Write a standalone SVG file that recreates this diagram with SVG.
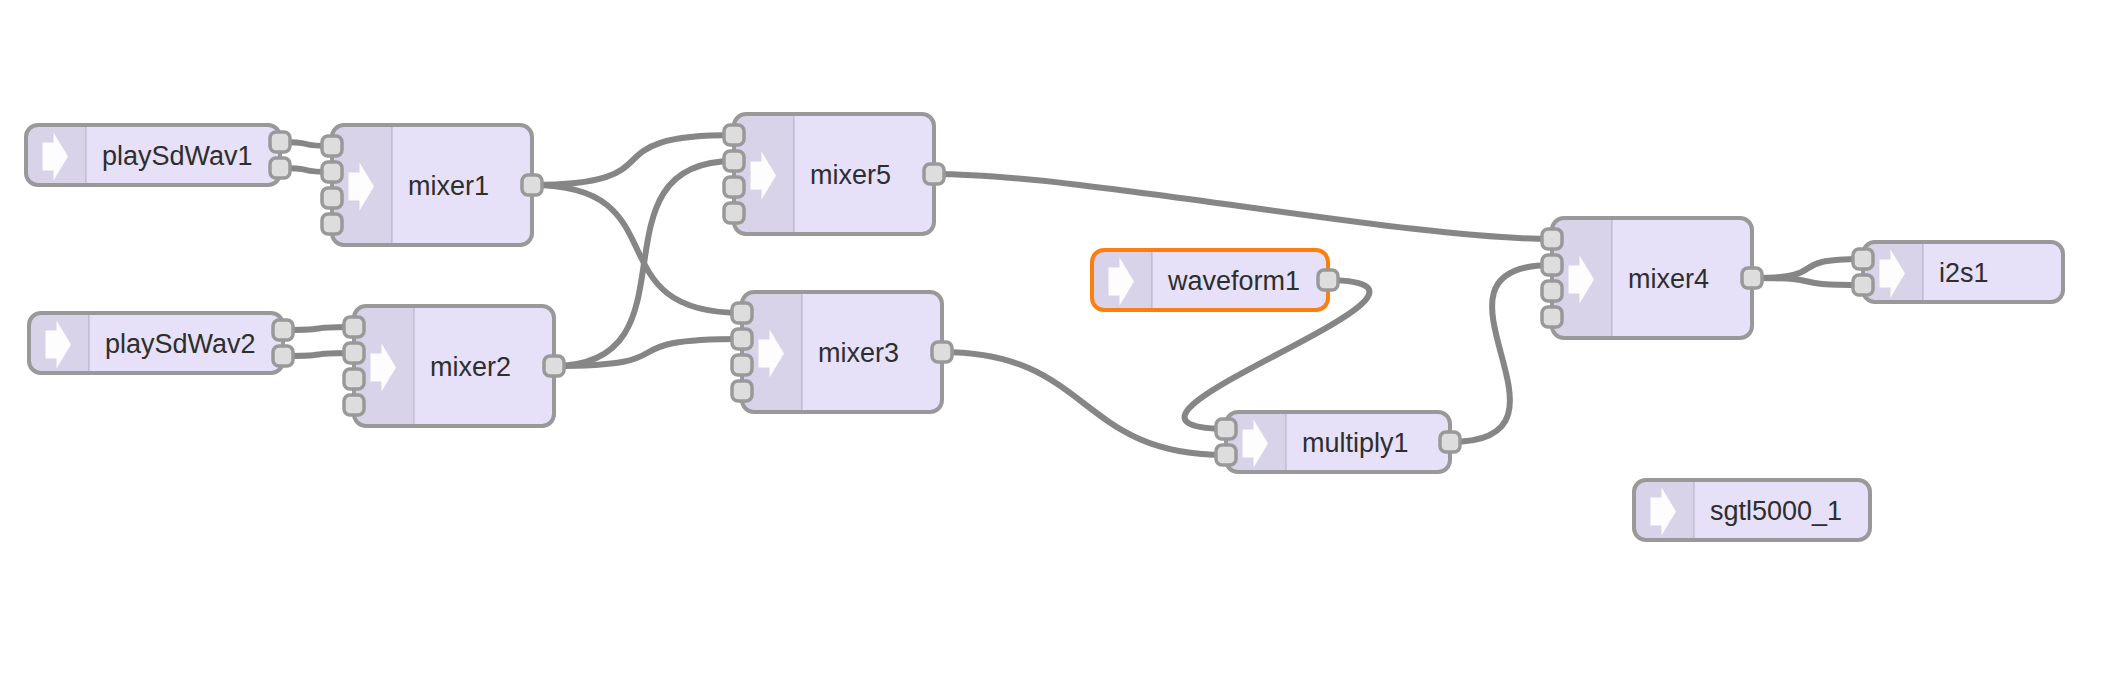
<svg xmlns="http://www.w3.org/2000/svg" xmlns:xlink="http://www.w3.org/1999/xlink" width="2112" height="674" viewBox="0 0 2112 674">
<style>
.bg{fill:#ffffff}
.link{fill:none;stroke:#868686;stroke-width:6;stroke-linecap:round}
.nfill{fill:#e6e0f8}
.shade{fill:#000000;fill-opacity:0.055}
.div{stroke:#000000;stroke-opacity:0.1;stroke-width:2}
.nborder{fill:none;stroke:#999999;stroke-width:4}
.sel{fill:none;stroke:#ff7f0e;stroke-width:4}
.port{fill:#dddddd;stroke:#999999;stroke-width:3.5}
.label{font-family:"Liberation Sans",Arial,Helvetica,sans-serif;font-size:27px;fill:#2e2e2e}
.arrow{fill:#ffffff;fill-opacity:0.95}
</style>
<defs>
<filter id="soft" x="-20%" y="-20%" width="140%" height="140%"><feGaussianBlur stdDeviation="0.7"/></filter>
<polygon id="arrow" class="arrow" filter="url(#soft)" points="-13,-14 -2,-14 -2,-24 12.5,0 -2,24 -2,14 -13,14"/>
<rect id="port" class="port" x="-10" y="-10" width="20" height="20" rx="6"/>
</defs>
<rect class="bg" x="0" y="0" width="2112" height="674"/>
<g id="connectors">
<path class="link" d="M280,142 C319.2,142 292.8,146 332,146"/>
<path class="link" d="M280,168 C319.2,168 292.8,172 332,172"/>
<path class="link" d="M283,330 C336.3,330 300.7,327 354,327"/>
<path class="link" d="M283,356 C336.3,356 300.7,353 354,353"/>
<path class="link" d="M532,185 C682,185 584,135 734,135"/>
<path class="link" d="M532,185 C682,185 592,313 742,313"/>
<path class="link" d="M554,366 C704,366 584,161 734,161"/>
<path class="link" d="M554,366 C696.5,366 599.5,339 742,339"/>
<path class="link" d="M934,174 C1084,174 1402,239 1552,239"/>
<path class="link" d="M942,352 C1092,352 1076,455 1226,455"/>
<path class="link" d="M1328,280 C1504.3,282.6 1049.7,426.4 1226,429"/>
<path class="link" d="M1450,442 C1600,442 1402,265 1552,265"/>
<path class="link" d="M1752,278 C1836.5,278 1778.5,259 1863,259"/>
<path class="link" d="M1752,278 C1835.4,278 1779.6,285 1863,285"/>
</g>
<g id="playSdWav1" transform="translate(26,125)">
<rect class="nfill" width="254" height="60" rx="12"/>
<path class="shade" d="M12,0 H60 V60 H12 A12,12 0 0 1 0,48 V12 A12,12 0 0 1 12,0 Z"/>
<line class="div" x1="60" y1="2" x2="60" y2="58"/>
<use xlink:href="#arrow" x="29.5" y="31.5"/>
<rect class="nborder" width="254" height="60" rx="12"/>
<text class="label" x="76" y="39.5">playSdWav1</text>
<use xlink:href="#port" x="254" y="17"/>
<use xlink:href="#port" x="254" y="43"/>
</g>
<g id="mixer1" transform="translate(332,125)">
<rect class="nfill" width="200" height="120" rx="12"/>
<path class="shade" d="M12,0 H60 V120 H12 A12,12 0 0 1 0,108 V12 A12,12 0 0 1 12,0 Z"/>
<line class="div" x1="60" y1="2" x2="60" y2="118"/>
<use xlink:href="#arrow" x="29.5" y="61.5"/>
<rect class="nborder" width="200" height="120" rx="12"/>
<text class="label" x="76" y="69.5">mixer1</text>
<use xlink:href="#port" x="0" y="21"/>
<use xlink:href="#port" x="0" y="47"/>
<use xlink:href="#port" x="0" y="73"/>
<use xlink:href="#port" x="0" y="99"/>
<use xlink:href="#port" x="200" y="60"/>
</g>
<g id="playSdWav2" transform="translate(29,313)">
<rect class="nfill" width="254" height="60" rx="12"/>
<path class="shade" d="M12,0 H60 V60 H12 A12,12 0 0 1 0,48 V12 A12,12 0 0 1 12,0 Z"/>
<line class="div" x1="60" y1="2" x2="60" y2="58"/>
<use xlink:href="#arrow" x="29.5" y="31.5"/>
<rect class="nborder" width="254" height="60" rx="12"/>
<text class="label" x="76" y="39.5">playSdWav2</text>
<use xlink:href="#port" x="254" y="17"/>
<use xlink:href="#port" x="254" y="43"/>
</g>
<g id="mixer2" transform="translate(354,306)">
<rect class="nfill" width="200" height="120" rx="12"/>
<path class="shade" d="M12,0 H60 V120 H12 A12,12 0 0 1 0,108 V12 A12,12 0 0 1 12,0 Z"/>
<line class="div" x1="60" y1="2" x2="60" y2="118"/>
<use xlink:href="#arrow" x="29.5" y="61.5"/>
<rect class="nborder" width="200" height="120" rx="12"/>
<text class="label" x="76" y="69.5">mixer2</text>
<use xlink:href="#port" x="0" y="21"/>
<use xlink:href="#port" x="0" y="47"/>
<use xlink:href="#port" x="0" y="73"/>
<use xlink:href="#port" x="0" y="99"/>
<use xlink:href="#port" x="200" y="60"/>
</g>
<g id="mixer5" transform="translate(734,114)">
<rect class="nfill" width="200" height="120" rx="12"/>
<path class="shade" d="M12,0 H60 V120 H12 A12,12 0 0 1 0,108 V12 A12,12 0 0 1 12,0 Z"/>
<line class="div" x1="60" y1="2" x2="60" y2="118"/>
<use xlink:href="#arrow" x="29.5" y="61.5"/>
<rect class="nborder" width="200" height="120" rx="12"/>
<text class="label" x="76" y="69.5">mixer5</text>
<use xlink:href="#port" x="0" y="21"/>
<use xlink:href="#port" x="0" y="47"/>
<use xlink:href="#port" x="0" y="73"/>
<use xlink:href="#port" x="0" y="99"/>
<use xlink:href="#port" x="200" y="60"/>
</g>
<g id="mixer3" transform="translate(742,292)">
<rect class="nfill" width="200" height="120" rx="12"/>
<path class="shade" d="M12,0 H60 V120 H12 A12,12 0 0 1 0,108 V12 A12,12 0 0 1 12,0 Z"/>
<line class="div" x1="60" y1="2" x2="60" y2="118"/>
<use xlink:href="#arrow" x="29.5" y="61.5"/>
<rect class="nborder" width="200" height="120" rx="12"/>
<text class="label" x="76" y="69.5">mixer3</text>
<use xlink:href="#port" x="0" y="21"/>
<use xlink:href="#port" x="0" y="47"/>
<use xlink:href="#port" x="0" y="73"/>
<use xlink:href="#port" x="0" y="99"/>
<use xlink:href="#port" x="200" y="60"/>
</g>
<g id="waveform1" transform="translate(1092,250)">
<rect class="nfill" width="236" height="60" rx="12"/>
<path class="shade" d="M12,0 H60 V60 H12 A12,12 0 0 1 0,48 V12 A12,12 0 0 1 12,0 Z"/>
<line class="div" x1="60" y1="2" x2="60" y2="58"/>
<use xlink:href="#arrow" x="29.5" y="31.5"/>
<rect class="sel" width="236" height="60" rx="12"/>
<text class="label" x="76" y="39.5">waveform1</text>
<use xlink:href="#port" x="236" y="30"/>
</g>
<g id="multiply1" transform="translate(1226,412)">
<rect class="nfill" width="224" height="60" rx="12"/>
<path class="shade" d="M12,0 H60 V60 H12 A12,12 0 0 1 0,48 V12 A12,12 0 0 1 12,0 Z"/>
<line class="div" x1="60" y1="2" x2="60" y2="58"/>
<use xlink:href="#arrow" x="29.5" y="31.5"/>
<rect class="nborder" width="224" height="60" rx="12"/>
<text class="label" x="76" y="39.5">multiply1</text>
<use xlink:href="#port" x="0" y="17"/>
<use xlink:href="#port" x="0" y="43"/>
<use xlink:href="#port" x="224" y="30"/>
</g>
<g id="mixer4" transform="translate(1552,218)">
<rect class="nfill" width="200" height="120" rx="12"/>
<path class="shade" d="M12,0 H60 V120 H12 A12,12 0 0 1 0,108 V12 A12,12 0 0 1 12,0 Z"/>
<line class="div" x1="60" y1="2" x2="60" y2="118"/>
<use xlink:href="#arrow" x="29.5" y="61.5"/>
<rect class="nborder" width="200" height="120" rx="12"/>
<text class="label" x="76" y="69.5">mixer4</text>
<use xlink:href="#port" x="0" y="21"/>
<use xlink:href="#port" x="0" y="47"/>
<use xlink:href="#port" x="0" y="73"/>
<use xlink:href="#port" x="0" y="99"/>
<use xlink:href="#port" x="200" y="60"/>
</g>
<g id="i2s1" transform="translate(1863,242)">
<rect class="nfill" width="200" height="60" rx="12"/>
<path class="shade" d="M12,0 H60 V60 H12 A12,12 0 0 1 0,48 V12 A12,12 0 0 1 12,0 Z"/>
<line class="div" x1="60" y1="2" x2="60" y2="58"/>
<use xlink:href="#arrow" x="29.5" y="31.5"/>
<rect class="nborder" width="200" height="60" rx="12"/>
<text class="label" x="76" y="39.5">i2s1</text>
<use xlink:href="#port" x="0" y="17"/>
<use xlink:href="#port" x="0" y="43"/>
</g>
<g id="sgtl5000_1" transform="translate(1634,480)">
<rect class="nfill" width="236" height="60" rx="12"/>
<path class="shade" d="M12,0 H60 V60 H12 A12,12 0 0 1 0,48 V12 A12,12 0 0 1 12,0 Z"/>
<line class="div" x1="60" y1="2" x2="60" y2="58"/>
<use xlink:href="#arrow" x="29.5" y="31.5"/>
<rect class="nborder" width="236" height="60" rx="12"/>
<text class="label" x="76" y="39.5">sgtl5000_1</text>
</g>
</svg>
